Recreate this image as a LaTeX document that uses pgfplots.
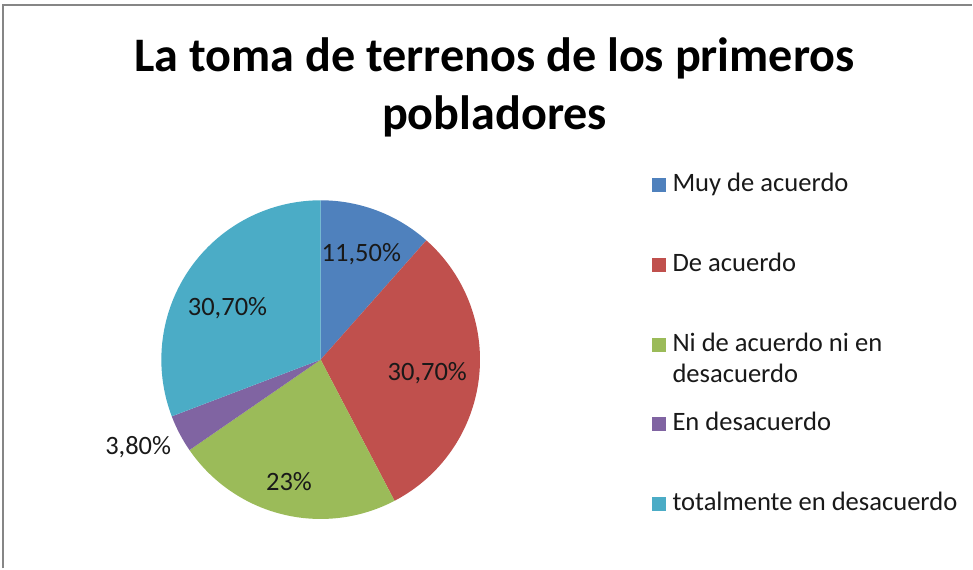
\documentclass[border=0pt]{standalone}
\usepackage{pgfplots}
\pgfplotsset{compat=1.18}
\usepackage{fontspec}
\setmainfont{Carlito}
\definecolor{cA}{HTML}{4F81BD}
\definecolor{cB}{HTML}{C0504D}
\definecolor{cC}{HTML}{9BBB59}
\definecolor{cD}{HTML}{8064A2}
\definecolor{cE}{HTML}{4BACC6}
\definecolor{frame}{HTML}{868686}
\begin{document}
\begin{tikzpicture}
% values (percent)
\def\vA{11.5}\def\vB{30.7}\def\vC{23}\def\vD{3.8}\def\vE{30.7}
\pgfmathsetmacro{\tot}{\vA+\vB+\vC+\vD+\vE}
\pgfmathsetmacro{\aA}{90}
\pgfmathsetmacro{\aB}{\aA-360*\vA/\tot}
\pgfmathsetmacro{\aC}{\aB-360*\vB/\tot}
\pgfmathsetmacro{\aD}{\aC-360*\vC/\tot}
\pgfmathsetmacro{\aE}{\aD-360*\vD/\tot}
\pgfmathsetmacro{\aF}{\aE-360*\vE/\tot}
\begin{axis}[scale only axis, width=973pt, height=569pt,
  xmin=0, xmax=973, ymin=0, ymax=569, hide axis, clip=false]
\path (0,0) rectangle (973,569);
\draw[frame, line width=2pt] (3,0) -- (3,564) -- (973,564);
\addplot[draw=none, fill=cA, domain=\aB:\aA, samples=60] ({321+159.5*cos(x)},{209+159.5*sin(x)}) -- (321,209) -- cycle;
\addplot[draw=none, fill=cB, domain=\aC:\aB, samples=80] ({321+159.5*cos(x)},{209+159.5*sin(x)}) -- (321,209) -- cycle;
\addplot[draw=none, fill=cC, domain=\aD:\aC, samples=80] ({321+159.5*cos(x)},{209+159.5*sin(x)}) -- (321,209) -- cycle;
\addplot[draw=none, fill=cD, domain=\aE:\aD, samples=30] ({321+159.5*cos(x)},{209+159.5*sin(x)}) -- (321,209) -- cycle;
\addplot[draw=none, fill=cE, domain=\aF:\aE, samples=80] ({321+159.5*cos(x)},{209+159.5*sin(x)}) -- (321,209) -- cycle;
% data labels
\begin{scope}[every node/.style={inner sep=0pt, anchor=base, font=\fontsize{26.5}{31}\selectfont, text=black!90}]
\node at (361.7,307.7) {11,50\%};
\node at (427.7,187.7) {30,70\%};
\node at (289.3,78.3) {23\%};
\node at (227.7,252.7) {30,70\%};
\node at (138.3,114.3) {3,80\%};
\end{scope}
% title
\node[inner sep=0pt, anchor=base, font=\fontsize{48.2}{58}\selectfont\bfseries] at (495,497.3) {La toma de terrenos de los primeros};
\node[inner sep=0pt, anchor=base, font=\fontsize{48.2}{58}\selectfont\bfseries] at (495,439) {pobladores};
% legend
\addplot[cA, only marks, mark=square*, mark size=6.5pt, mark options={draw=none, fill=cA}] coordinates {(659,384)};
\addplot[cB, only marks, mark=square*, mark size=6.5pt, mark options={draw=none, fill=cB}] coordinates {(659,304)};
\addplot[cC, only marks, mark=square*, mark size=6.5pt, mark options={draw=none, fill=cC}] coordinates {(659,224)};
\addplot[cD, only marks, mark=square*, mark size=6.5pt, mark options={draw=none, fill=cD}] coordinates {(659,144.5)};
\addplot[cE, only marks, mark=square*, mark size=6.5pt, mark options={draw=none, fill=cE}] coordinates {(659,64.5)};
\begin{scope}[every node/.style={inner sep=0pt, anchor=base west, font=\fontsize{26.6}{31}\selectfont, text=black!90}]
\node at (673,377) {Muy de acuerdo};
\node at (673,297) {De acuerdo};
\node at (673,217) {Ni de acuerdo ni en};
\node at (673,186) {desacuerdo};
\node at (673,138) {En desacuerdo};
\node at (673,58) {totalmente en desacuerdo};
\end{scope}
\end{axis}
\end{tikzpicture}
\end{document}
